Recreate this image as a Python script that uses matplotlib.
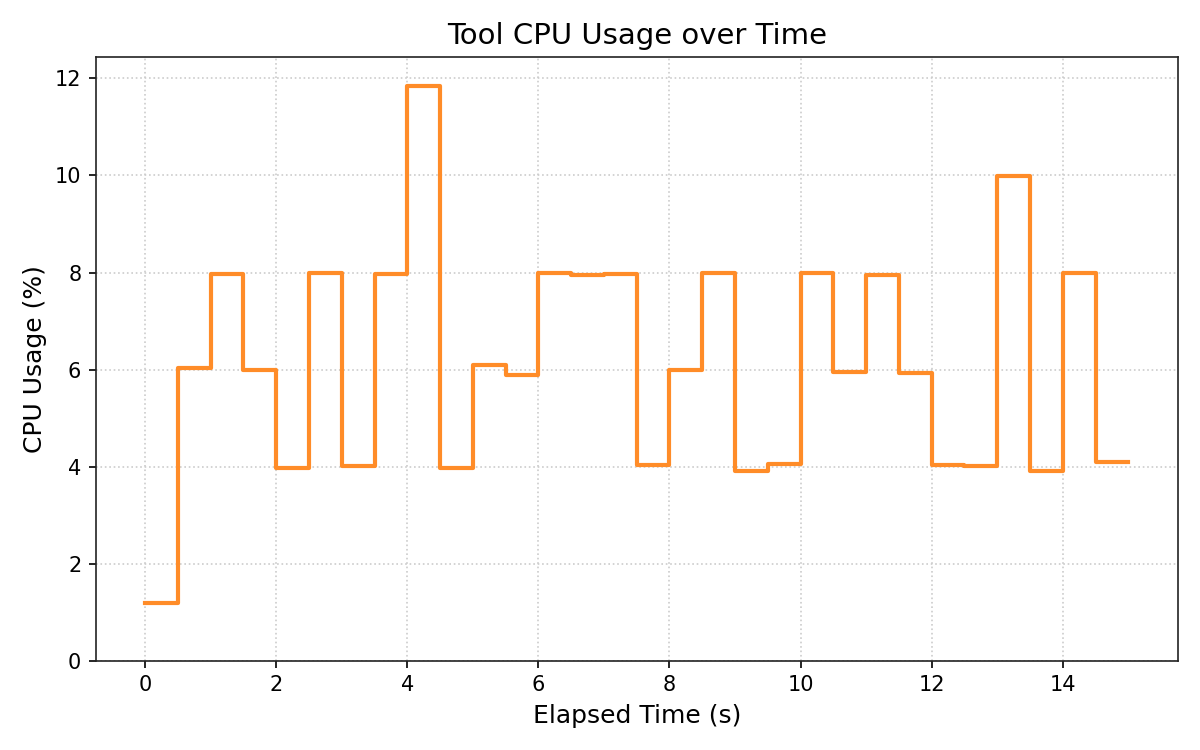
import numpy as np
import matplotlib.pyplot as plt

# elapsed time (s) and cpu usage (%) samples
elapsed = [0.0, 0.5, 1.0, 1.5, 2.0, 2.5, 3.0, 3.5, 4.0, 4.5,
           5.0, 5.5, 6.0, 6.5, 7.0, 7.5, 8.0, 8.5, 9.0, 9.5,
           10.0, 10.5, 11.0, 11.5, 12.0, 12.5, 13.0, 13.5, 14.0, 14.5, 15.0]
cpu = [1.18, 6.03, 7.96, 5.99, 3.96, 7.98, 4.02, 7.96, 11.85, 3.98,
       6.09, 5.89, 7.98, 7.94, 7.96, 4.04, 5.99, 8.00, 3.91, 4.05,
       7.98, 5.94, 7.94, 5.93, 4.03, 4.01, 9.98, 3.91, 7.98, 4.09, 4.09]

fig, ax = plt.subplots(figsize=(8, 5), dpi=150)
ax.step(elapsed, cpu, where='post', color='#ff8c28', linewidth=2)

ax.set_ylim(0, max(cpu) * 1.05)
ax.set_title("Tool CPU Usage over Time", fontsize=14)
ax.set_xlabel("Elapsed Time (s)", fontsize=12)
ax.set_ylabel("CPU Usage (%)", fontsize=12)
ax.grid(True, linestyle=':', color='#cccccc', linewidth=0.8)
for s in ax.spines.values():
    s.set_color('#222222')

plt.tight_layout()
plt.savefig("out.png")
